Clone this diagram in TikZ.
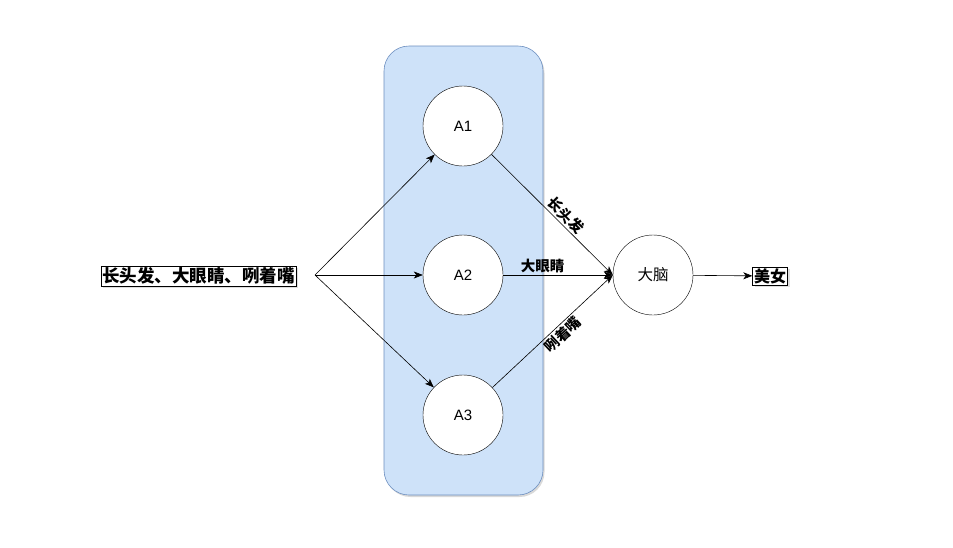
\documentclass[tikz,border=0pt]{standalone}
\usepackage{fontspec}
\setmainfont{Liberation Sans}
\newfontfamily\cjk{Noto Sans CJK SC}
\usepackage{tikz}
\usetikzlibrary{positioning,arrows.meta,shadows}
\definecolor{myblue}{RGB}{206,226,249}
\definecolor{myborder}{RGB}{108,142,191}

\begin{document}
\begin{tikzpicture}[x=1pt,y=-1pt,
	neuron/.style={draw,circle,fill=white,minimum size=80pt,inner sep=0pt,font=\fontsize{15}{15}\selectfont},
	textbox/.style={draw,fill=white,inner sep=1.5pt,font=\cjk\bfseries,
		drop shadow={opacity=0.25,shadow xshift=2pt,shadow yshift=-2pt}},
	edgelabel/.style={font=\cjk\bfseries\fontsize{14.5}{15}\selectfont,inner sep=2pt},
	conn/.style={-{Stealth[length=9pt,width=7pt,inset=2.5pt]},semithick},
	]
	\useasboundingbox (0,0) rectangle (953,547);
	
	% the hidden layer
	\draw[myborder,fill=myblue,rounded corners=25pt,semithick,
		drop shadow={opacity=0.3,shadow xshift=1.5pt,shadow yshift=-2pt}]
		(384,46) rectangle (543,495);
	
	% the vertices
	\node[neuron] (A1) at (463,126) {A1};
	\node[neuron] (A2) at (463,275) {A2};
	\node[neuron] (A3) at (463,415) {A3};
	\node[neuron,font=\cjk\fontsize{15.5}{16}\selectfont] (brain) at (653,275) {大脑};
	
	% input and output
	\node[textbox,font=\cjk\bfseries\fontsize{17.5}{18}\selectfont] (input) at (198.5,276) {长头发、大眼睛、咧着嘴};
	\coordinate (fork) at (315,275);
	\node[textbox,font=\cjk\bfseries\fontsize{16}{17}\selectfont] (output) at (770,276) {美女};
	
	% input edges
	\draw[conn] (fork) -- (A1);
	\draw[conn] (fork) -- (A2);
	\draw[conn] (fork) -- (A3);
	
	% feature edges
	\draw[conn] (A1) -- node[edgelabel,sloped,above,pos=0.56] {长头发} (brain.west);
	\draw[conn] (A2) -- node[edgelabel,above,pos=0.36] {大眼睛} (brain.west);
	\draw[conn] (A3) -- node[edgelabel,sloped,below,pos=0.53] {咧着嘴} (brain.west);
	
	% output edge
	\draw[conn] (brain) -- (output);
	
\end{tikzpicture}
\end{document}
